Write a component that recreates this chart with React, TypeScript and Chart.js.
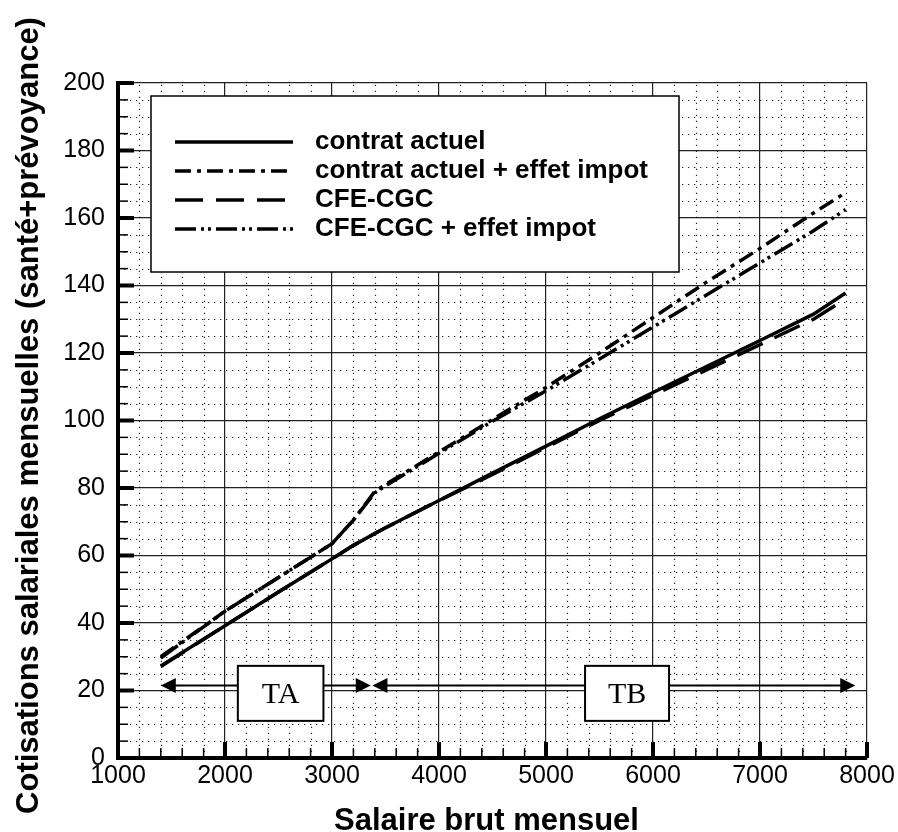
import React, { useEffect, useRef } from "react";
import { Chart, registerables } from "chart.js";

Chart.register(...registerables);

const SANS = '"Liberation Sans", Arial, Helvetica, sans-serif';
const SERIF = '"Liberation Serif", "Times New Roman", serif';

// ---- data ----
const salary = [1400, 2000, 2500, 3000, 3200, 3400, 3500, 4000, 4500, 5000, 5500, 6000, 6500, 7000, 7500, 7800];
const contratActuel = [27.3, 39.2, 49.2, 59, 63, 66.5, 68.2, 76.3, 84.4, 92.4, 100.5, 108.3, 116, 123.7, 131.5, 137.8];
const contratActuelImpot = [30, 43.5, 53.5, 63.5, 70.5, 79, 81, 90.7, 100.3, 109.8, 120, 130.5, 141, 151, 161.5, 167.5];
const cfeCgc = [27.1, 39.2, 49.2, 59, 63, 66.5, 68.2, 76.3, 84, 92, 100, 107.5, 115, 122.5, 130, 136];
const cfeCgcImpot = [29.6, 43.5, 53.5, 63.5, 70.5, 78.6, 80.6, 90.3, 99.8, 108.8, 118.2, 127.7, 137.2, 146.7, 156.2, 162.5];

const seriesLabels = [
  "contrat actuel",
  "contrat actuel + effet impot",
  "CFE-CGC",
  "CFE-CGC + effet impot",
];
const seriesValues = [contratActuel, contratActuelImpot, cfeCgc, cfeCgcImpot];
const seriesDashes = [[], [16, 6, 4, 6], [28, 13], [21, 5, 3, 4, 3, 5]];

const xAxisTitle = "Salaire brut mensuel";
const yAxisTitle = "Cotisations salariales mensuelles (santé+prévoyance)";
const xMin = 1000;
const xMax = 8000;
const xMajorStep = 1000;
const xMinorStep = 200;
const yMin = 0;
const yMax = 200;
const yMajorStep = 20;
const yMinorStep = 5;

// tranche annotations (TA / TB)
const trancheLabels = ["TA", "TB"];
const trancheArrowFrom = [1400, 3378];
const trancheArrowTo = [3362, 7890];
const trancheBoxFrom = [2120, 5365];
const trancheBoxTo = [2920, 6150];
const trancheArrowLevel = 21.5;
const trancheBoxBottom = 11;
const trancheBoxTop = 27.3;

function line(ctx: CanvasRenderingContext2D, x1: number, y1: number, x2: number, y2: number) {
  ctx.beginPath();
  ctx.moveTo(x1, y1);
  ctx.lineTo(x2, y2);
  ctx.stroke();
}

function arrowHead(ctx: CanvasRenderingContext2D, tipX: number, yy: number, dir: number) {
  ctx.beginPath();
  ctx.moveTo(tipX, yy);
  ctx.lineTo(tipX - dir * 15, yy - 7.5);
  ctx.lineTo(tipX - dir * 15, yy + 7.5);
  ctx.closePath();
  ctx.fill();
}

const decorPlugin = {
  id: "decor",
  beforeDatasetsDraw(chart: any) {
    const { ctx, chartArea: a } = chart;
    const xs = chart.scales.x;
    const ys = chart.scales.y;
    ctx.save();
    ctx.strokeStyle = "rgba(0,0,0,0.85)";
    ctx.lineWidth = 1.2;
    ctx.setLineDash([1.3, 4.7]);
    for (let v = xMin + xMinorStep; v < xMax; v += xMinorStep) {
      if (v % xMajorStep === 0) continue;
      const px = Math.round(xs.getPixelForValue(v)) + 0.5;
      line(ctx, px, a.bottom, px, a.top);
    }
    for (let v = yMin + yMinorStep; v < yMax; v += yMinorStep) {
      if (v % yMajorStep === 0) continue;
      const py = Math.round(ys.getPixelForValue(v)) + 0.5;
      line(ctx, a.left, py, a.right, py);
    }
    ctx.restore();
  },
  afterDatasetsDraw(chart: any) {
    const { ctx, chartArea: a } = chart;
    const xs = chart.scales.x;
    const ys = chart.scales.y;
    ctx.save();
    ctx.setLineDash([]);
    ctx.strokeStyle = "#000";
    ctx.fillStyle = "#000";

    // inside tick marks
    for (let v = xMin + xMinorStep; v <= xMax; v += xMinorStep) {
      const px = xs.getPixelForValue(v);
      const major = v % xMajorStep === 0;
      ctx.lineWidth = major ? 4 : 1.5;
      line(ctx, px, a.bottom, px, a.bottom - (major ? 16 : 10));
    }
    for (let v = yMin + yMinorStep; v <= yMax; v += yMinorStep) {
      const py = ys.getPixelForValue(v);
      const major = v % yMajorStep === 0;
      ctx.lineWidth = major ? 4 : 1.5;
      line(ctx, a.left, py, a.left + (major ? 16 : 10), py);
    }

    // tranche arrows and boxes
    const ay = ys.getPixelForValue(trancheArrowLevel);
    trancheLabels.forEach((lab, i) => {
      const x1 = xs.getPixelForValue(trancheArrowFrom[i]);
      const x2 = xs.getPixelForValue(trancheArrowTo[i]);
      ctx.lineWidth = 2;
      line(ctx, x1 + 10, ay, x2 - 10, ay);
      arrowHead(ctx, x1, ay, -1);
      arrowHead(ctx, x2, ay, 1);
    });
    trancheLabels.forEach((lab, i) => {
      const bx1 = xs.getPixelForValue(trancheBoxFrom[i]);
      const bx2 = xs.getPixelForValue(trancheBoxTo[i]);
      const by1 = ys.getPixelForValue(trancheBoxTop);
      const by2 = ys.getPixelForValue(trancheBoxBottom);
      ctx.fillStyle = "#fff";
      ctx.fillRect(bx1, by1, bx2 - bx1, by2 - by1);
      ctx.lineWidth = 2;
      ctx.strokeStyle = "#000";
      ctx.strokeRect(bx1, by1, bx2 - bx1, by2 - by1);
      ctx.fillStyle = "#000";
      ctx.font = `30px ${SERIF}`;
      ctx.textAlign = "center";
      ctx.textBaseline = "middle";
      ctx.fillText(lab, (bx1 + bx2) / 2, (by1 + by2) / 2 + 2);
    });

    // legend box
    const lx = a.left + 33;
    const ly = a.top + 13;
    const lw = 528;
    const lh = 176;
    ctx.fillStyle = "#fff";
    ctx.fillRect(lx, ly, lw, lh);
    ctx.strokeStyle = "#000";
    ctx.lineWidth = 1.5;
    ctx.strokeRect(lx, ly, lw, lh);
    const rowOffsets = [46, 75, 104, 133];
    chart.data.datasets.forEach((ds: any, i: number) => {
      const ry = ly + rowOffsets[i];
      ctx.setLineDash(ds.borderDash || []);
      ctx.lineWidth = 3.5;
      line(ctx, lx + 24, ry, lx + 142, ry);
      ctx.setLineDash([]);
      ctx.fillStyle = "#000";
      ctx.font = `bold 26px ${SANS}`;
      ctx.textAlign = "left";
      ctx.textBaseline = "middle";
      ctx.fillText(ds.label, lx + 164, ry);
    });

    // axis titles
    ctx.fillStyle = "#000";
    ctx.font = `bold 31px ${SANS}`;
    ctx.textBaseline = "alphabetic";
    ctx.textAlign = "center";
    ctx.fillText(xAxisTitle, (a.left + a.right) / 2 - 6, chart.height - 2);
    ctx.save();
    ctx.translate(38, (a.top + a.bottom) / 2 - 5);
    ctx.rotate(-Math.PI / 2);
    ctx.fillText(yAxisTitle, 0, 0);
    ctx.restore();

    ctx.restore();
  },
};

export default function App() {
  const ref = useRef<HTMLCanvasElement>(null);
  useEffect(() => {
    document.body.style.margin = "0";
    document.body.style.overflow = "hidden";
    const canvas = ref.current!;
    const chart = new Chart(canvas, {
      type: "line",
      data: {
        datasets: seriesLabels.map((label, i) => ({
          label,
          data: salary.map((s, j) => ({ x: s, y: seriesValues[i][j] })),
          borderColor: "#000",
          backgroundColor: "#000",
          borderWidth: 3.5,
          borderDash: seriesDashes[i],
          pointRadius: 0,
          fill: false,
          tension: 0,
        })),
      },
      options: {
        responsive: false,
        animation: false,
        layout: { padding: { left: 0, right: 31, top: 83, bottom: 0 } },
        plugins: { legend: { display: false }, tooltip: { enabled: false } },
        scales: {
          x: {
            type: "linear",
            min: xMin,
            max: xMax,
            ticks: {
              stepSize: xMajorStep,
              padding: 3,
              color: "#000",
              font: { family: SANS, size: 25 },
              callback: (v: any) => String(v),
            },
            grid: { color: "#222", lineWidth: 1.2, drawTicks: false },
            border: { color: "#000", width: 4 },
            afterFit: (s: any) => {
              s.height = 74;
            },
          },
          y: {
            type: "linear",
            min: yMin,
            max: yMax,
            ticks: {
              stepSize: yMajorStep,
              padding: 13,
              color: "#000",
              font: { family: SANS, size: 25 },
              callback: (v: any) => String(v),
            },
            grid: { color: "#222", lineWidth: 1.2, drawTicks: false },
            border: { color: "#000", width: 4 },
            afterFit: (s: any) => {
              s.width = 118;
            },
          },
        },
      },
      plugins: [decorPlugin],
    } as any);
    return () => chart.destroy();
  }, []);
  return <canvas ref={ref} width={898} height={832} style={{ display: "block", width: 898, height: 832 }} />;
}
